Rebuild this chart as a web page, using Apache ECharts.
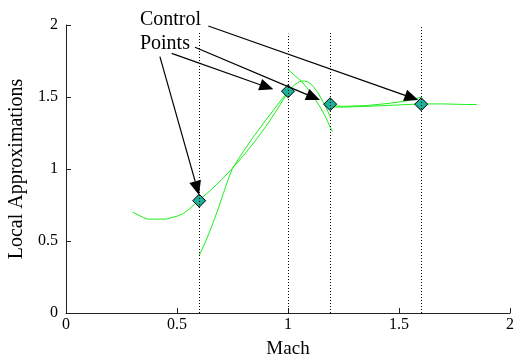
<!DOCTYPE html>
<html>
<head>
<meta charset="utf-8">
<script src="https://cdn.jsdelivr.net/npm/echarts@6/dist/echarts.min.js"></script>
<style>
  html, body { margin: 0; padding: 0; background: #fff; }
  #chart { width: 516px; height: 360px; }
</style>
</head>
<body>
<div id="chart"></div>
<script>
// Axis ticks
const xTicks = [0, 0.5, 1, 1.5, 2];
const yTicks = [0, 0.5, 1, 1.5, 2];

// Control points (Mach, value) and the height of their dotted guides
const controlMach = [0.6, 1.0, 1.19, 1.6];
const controlValue = [0.78, 1.54, 1.45, 1.45];
const guideTop = [1.95, 1.94, 1.95, 1.99];

// Local approximation curves, [Mach, value]
const approxA = [[0.3, 0.70], [0.35, 0.662], [0.37, 0.652], [0.45, 0.652], [0.5, 0.672], [0.53, 0.692],
  [0.56, 0.728], [0.6, 0.785], [0.65, 0.85], [0.7, 0.925], [0.75, 1.005], [0.8, 1.095],
  [0.85, 1.19], [0.9, 1.295], [0.95, 1.41], [1.0, 1.535]];
const approxB = [[0.6, 0.40], [0.63, 0.50], [0.656, 0.60], [0.68, 0.70], [0.709, 0.83], [0.73, 0.925],
  [0.75, 1.005], [0.8, 1.125], [0.85, 1.235], [0.9, 1.34], [0.95, 1.44], [1.0, 1.54],
  [1.03, 1.585], [1.05, 1.605], [1.07, 1.612], [1.09, 1.605], [1.11, 1.58], [1.135, 1.53],
  [1.16, 1.46], [1.18, 1.40], [1.19, 1.36]];
const approxC = [[1.0, 1.69], [1.03, 1.65], [1.06, 1.61], [1.09, 1.555], [1.12, 1.49], [1.145, 1.43],
  [1.17, 1.36], [1.19, 1.29], [1.2, 1.26]];
const approxD = [[1.19, 1.44], [1.25, 1.435], [1.35, 1.44], [1.45, 1.455], [1.52, 1.47],
  [1.57, 1.485], [1.6, 1.50]];
const approxE = [[1.19, 1.43], [1.25, 1.43], [1.3, 1.432], [1.4, 1.438], [1.5, 1.445], [1.6, 1.452],
  [1.7, 1.452], [1.8, 1.448], [1.85, 1.448]];

// Annotation text and arrows (start -> tip, in data units)
const noteText = ['Control', 'Points'];
const notePos = [[0.333, 2.035], [0.333, 1.868]];
const arrowFrom = [[0.423, 1.78], [0.476, 1.803], [0.581, 1.845], [0.641, 1.993]];
const arrowTo = [[0.599, 0.82], [0.934, 1.553], [1.144, 1.479], [1.587, 1.479]];

const serif = '"Liberation Serif", "Times New Roman", serif';
const green = '#1cf01c';

function curve(data) {
  return {
    type: 'line', data: data, showSymbol: false, symbol: 'none', smooth: false,
    lineStyle: { color: green, width: 1 }, z: 2, silent: true
  };
}

const chart = echarts.init(document.getElementById('chart'), null, { renderer: 'canvas' });

chart.setOption({
  animation: false,
  backgroundColor: '#fff',
  grid: { left: 66, top: 25, width: 444, height: 288, containLabel: false, outerBoundsMode: 'none' },
  xAxis: {
    type: 'value', min: xTicks[0], max: xTicks[xTicks.length - 1], interval: 0.5,
    name: 'Mach', nameLocation: 'middle', nameGap: 27,
    nameTextStyle: { fontFamily: serif, fontSize: 19, color: '#000' },
    axisLine: { show: true, lineStyle: { color: '#222', width: 1 } },
    axisTick: { show: true, inside: true, length: 5, lineStyle: { color: '#222' } },
    axisLabel: { fontFamily: serif, fontSize: 16, color: '#000', margin: 4 },
    splitLine: { show: false }
  },
  yAxis: {
    type: 'value', min: yTicks[0], max: yTicks[yTicks.length - 1], interval: 0.5,
    name: 'Local Approximations', nameLocation: 'middle', nameGap: 39,
    nameTextStyle: { fontFamily: serif, fontSize: 20, color: '#000' },
    axisLine: { show: true, lineStyle: { color: '#222', width: 1 } },
    axisTick: { show: true, inside: true, length: 5, lineStyle: { color: '#222' } },
    axisLabel: { fontFamily: serif, fontSize: 16, color: '#000', margin: 8 },
    splitLine: { show: false }
  },
  series: [
    curve(approxA), curve(approxB), curve(approxC), curve(approxD), curve(approxE),
    {
      type: 'scatter',
      data: controlMach.map((m, i) => [m, controlValue[i]]),
      symbol: 'diamond', symbolSize: [13, 13],
      itemStyle: { color: '#1eb09a', borderColor: '#000', borderWidth: 1, opacity: 1 },
      z: 3, silent: true
    },
    {
      // dotted vertical guides through each control point
      type: 'custom', clip: false, z: 4, silent: true,
      data: controlMach.map((m, i) => [m, guideTop[i]]),
      encode: { x: 0, y: 1 },
      renderItem: function (params, api) {
        const a = api.coord([api.value(0), 0]);
        const b = api.coord([api.value(0), api.value(1)]);
        return {
          type: 'line',
          shape: { x1: Math.round(a[0]) + 0.5, y1: a[1], x2: Math.round(b[0]) + 0.5, y2: b[1] },
          style: { stroke: '#000', lineWidth: 1, lineDash: [1, 2] }
        };
      }
    },
    {
      // annotation arrows
      type: 'custom', clip: false, z: 5, silent: true,
      data: arrowFrom.map((p, i) => [p[0], p[1], arrowTo[i][0], arrowTo[i][1]]),
      encode: { x: [0, 2], y: [1, 3] },
      renderItem: function (params, api) {
        const p0 = api.coord([api.value(0), api.value(1)]);
        const p1 = api.coord([api.value(2), api.value(3)]);
        const dx = p1[0] - p0[0], dy = p1[1] - p0[1];
        const len = Math.hypot(dx, dy);
        const ux = dx / len, uy = dy / len;
        const hl = 14, hw = 6;
        const bx = p1[0] - ux * hl, by = p1[1] - uy * hl;
        return {
          type: 'group',
          children: [
            { type: 'line', shape: { x1: p0[0], y1: p0[1], x2: bx, y2: by },
              style: { stroke: '#000', lineWidth: 1.2 } },
            { type: 'polygon',
              shape: { points: [[p1[0], p1[1]], [bx - uy * hw, by + ux * hw], [bx + uy * hw, by - ux * hw]] },
              style: { fill: '#000' } }
          ]
        };
      }
    },
    {
      // annotation text
      type: 'custom', clip: false, z: 5, silent: true,
      data: notePos,
      encode: { x: 0, y: 1 },
      renderItem: function (params, api) {
        const p = api.coord([api.value(0), api.value(1)]);
        return {
          type: 'text', x: p[0], y: p[1],
          style: {
            text: noteText[params.dataIndex], fontFamily: serif, fontSize: 20,
            fill: '#000', align: 'left', verticalAlign: 'middle'
          }
        };
      }
    }
  ]
});
</script>
</body>
</html>
